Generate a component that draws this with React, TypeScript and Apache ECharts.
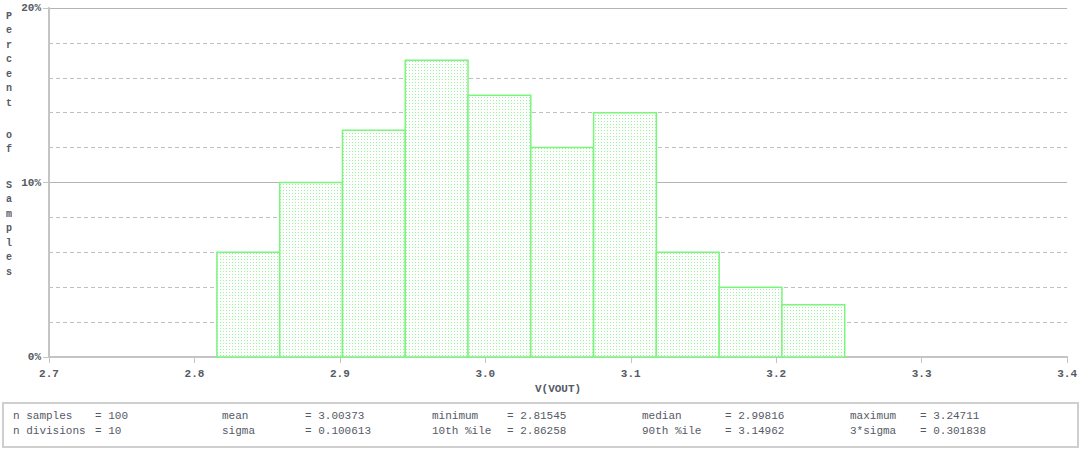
import React, { useEffect, useRef } from "react";
import * as echarts from "echarts";

// Histogram bin edges (V) and percentage of samples in each bin
const binEdges = [2.81545, 2.85862, 2.90178, 2.94495, 2.98811, 3.03128, 3.07445, 3.11761, 3.16078, 3.20394, 3.24711];
const binPercents = [6, 10, 13, 17, 15, 12, 14, 6, 4, 3];

const xMin = 2.7;
const xMax = 3.4;
const xInterval = 0.1;
const yMin = 0;
const yMax = 20;
const yMinorInterval = 2;
const yMajorInterval = 10;

const xAxisName = "V(VOUT)";
const yAxisWords = ["Percent", "of", "Samples"];

const statsRow1 = [
  ["n samples", "= 100"],
  ["mean", "= 3.00373"],
  ["minimum", "= 2.81545"],
  ["median", "= 2.99816"],
  ["maximum", "= 3.24711"],
];
const statsRow2 = [
  ["n divisions", "= 10"],
  ["sigma", "= 0.100613"],
  ["10th %ile", "= 2.86258"],
  ["90th %ile", "= 3.14962"],
  ["3*sigma", "= 0.301838"],
];

function makeDotPattern(): string {
  const c = document.createElement("canvas");
  c.width = 3;
  c.height = 3;
  const ctx = c.getContext("2d")!;
  ctx.fillStyle = "#ffffff";
  ctx.fillRect(0, 0, 3, 3);
  ctx.fillStyle = "#99f599";
  ctx.fillRect(1, 1, 1, 1);
  return c.toDataURL();
}

export default function App() {
  const ref = useRef<HTMLDivElement>(null);

  useEffect(() => {
    if (!ref.current) return;
    const chart = echarts.init(ref.current, undefined, { renderer: "svg" });
    const pattern = makeDotPattern();
    const font = "'Liberation Mono', 'DejaVu Sans Mono', monospace";
    const textColor = "#555a66";

    const data = binPercents.map((p, i) => [binEdges[i], binEdges[i + 1], p]);

    const labelCols = [13, 222, 432, 642, 850];
    const valueCols = [95, 305, 507, 725, 920];

    const statTexts: any[] = [];
    [statsRow1, statsRow2].forEach((row, r) => {
      row.forEach((pair, c) => {
        statTexts.push({
          type: "text",
          left: labelCols[c],
          top: 410 + r * 15,
          style: { text: pair[0], font: `11px ${font}`, fill: textColor },
        });
        statTexts.push({
          type: "text",
          left: valueCols[c],
          top: 410 + r * 15,
          style: { text: pair[1], font: `11px ${font}`, fill: textColor },
        });
      });
    });

    const wordTops = [9, 128, 178];
    const yTitle = yAxisWords.map((w, i) => ({
      type: "text",
      left: 6,
      top: wordTops[i],
      style: {
        text: w.split("").join("\n"),
        font: `bold 10px ${font}`,
        fill: textColor,
        lineHeight: 14.5,
        align: "left",
      },
    }));

    chart.setOption({
      animation: false,
      backgroundColor: "#ffffff",
      grid: { left: 49, right: 10, top: 8, bottom: 98, containLabel: false },
      xAxis: {
        type: "value",
        min: xMin,
        max: xMax,
        interval: xInterval,
        name: xAxisName,
        nameLocation: "middle",
        nameGap: 26,
        nameTextStyle: { fontFamily: font, fontSize: 11, color: textColor, fontWeight: "bold" },
        axisLine: { show: true, lineStyle: { color: "#c4c4c4", width: 2 } },
        axisTick: { show: true, length: 6, lineStyle: { color: "#c4c4c4", width: 1 } },
        axisLabel: {
          fontFamily: font,
          fontSize: 11,
          fontWeight: "bold",
          color: textColor,
          margin: 11,
          formatter: (v: number) => v.toFixed(1),
        },
        splitLine: { show: false },
      },
      yAxis: [
        {
          type: "value",
          min: yMin,
          max: yMax,
          interval: yMinorInterval,
          axisLine: { show: true, lineStyle: { color: "#c4c4c4", width: 2 } },
          axisTick: { show: false },
          axisLabel: {
            fontFamily: font,
            fontSize: 11,
            fontWeight: "bold",
            color: textColor,
            margin: 8,
            formatter: (v: number) => (v % yMajorInterval === 0 ? `${v}%` : ""),
          },
          splitLine: { show: true, lineStyle: { color: "#c0c0c0", type: [4, 3], width: 1 } },
        },
        {
          type: "value",
          min: yMin,
          max: yMax,
          interval: yMajorInterval,
          position: "left",
          axisLine: { show: false },
          axisTick: { show: true, length: 6, lineStyle: { color: "#c4c4c4", width: 1 } },
          axisLabel: { show: false },
          splitLine: { show: true, lineStyle: { color: "#b4b4b4", type: "solid", width: 1 } },
        },
      ],
      series: [
        {
          type: "custom",
          data,
          renderItem: (params: any, api: any) => {
            const x0 = api.value(0);
            const x1 = api.value(1);
            const p = api.value(2);
            const a = api.coord([x0, p]);
            const b = api.coord([x1, 0]);
            return {
              type: "rect",
              shape: { x: a[0], y: a[1], width: b[0] - a[0], height: b[1] - a[1] },
              style: {
                fill: { image: pattern, repeat: "repeat" },
                stroke: "#7cf57c",
                lineWidth: 1.5,
              },
            };
          },
          z: 5,
        },
      ],
      graphic: [
        ...yTitle,
        {
          type: "rect",
          left: 2,
          top: 402,
          shape: { width: 1075, height: 44 },
          style: { fill: "#ffffff", stroke: "#cfcfcf", lineWidth: 2 },
        },
        ...statTexts,
      ],
    });

    return () => chart.dispose();
  }, []);

  return (
    <div
      ref={ref}
      style={{ position: "fixed", left: 0, top: 0, width: 1080, height: 455 }}
    />
  );
}
